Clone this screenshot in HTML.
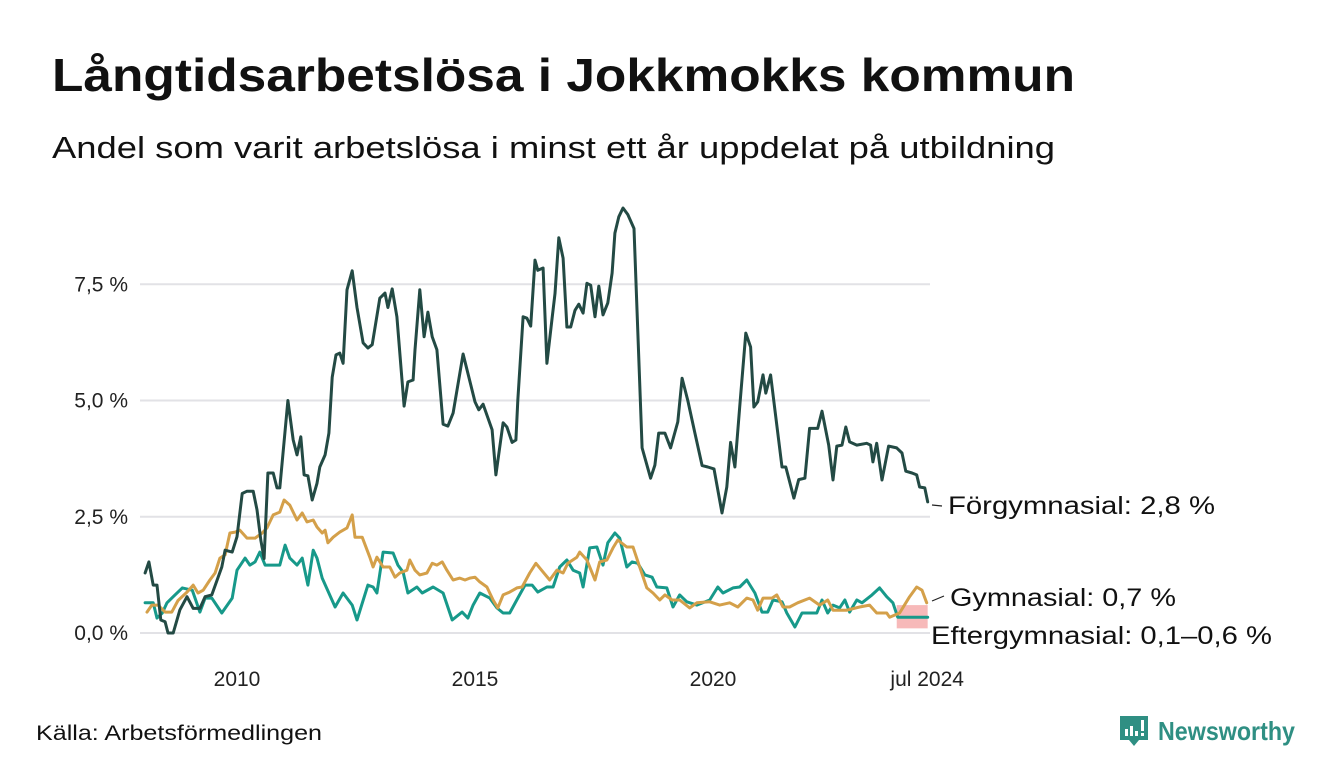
<!DOCTYPE html>
<html><head><meta charset="utf-8"><style>
html,body{margin:0;padding:0;background:#fff;}
svg{display:block;font-family:"Liberation Sans","DejaVu Sans",sans-serif;}
</style></head><body>
<svg id="chart" width="1340" height="780" viewBox="0 0 1340 780" xmlns="http://www.w3.org/2000/svg">
<rect width="1340" height="780" fill="#fff"/>
<text x="52" y="91" font-size="46" font-weight="bold" fill="#111" textLength="1023" lengthAdjust="spacingAndGlyphs">Långtidsarbetslösa i Jokkmokks kommun</text>
<text x="52" y="158" font-size="31" fill="#111" textLength="1003" lengthAdjust="spacingAndGlyphs">Andel som varit arbetslösa i minst ett år uppdelat på utbildning</text>
<g id="grid"></g>
<g id="yticks"></g>
<g id="xticks"></g>
<g id="series"></g>
<g>
<line x1="932" y1="505" x2="942" y2="506" stroke="#222" stroke-width="1.2"/>
<text x="948" y="514" font-size="25" fill="#111" textLength="267" lengthAdjust="spacingAndGlyphs">Förgymnasial: 2,8 %</text>
<line x1="932" y1="601" x2="944" y2="596" stroke="#222" stroke-width="1.2"/>
<text x="950" y="606" font-size="25" fill="#111" textLength="226" lengthAdjust="spacingAndGlyphs">Gymnasial: 0,7 %</text>
<text x="931" y="644" font-size="25" fill="#111" textLength="341" lengthAdjust="spacingAndGlyphs">Eftergymnasial: 0,1–0,6 %</text>
</g>
<text x="36" y="740" font-size="21" fill="#111" textLength="286" lengthAdjust="spacingAndGlyphs">Källa: Arbetsförmedlingen</text>
<g>
<path d="M1120 716 h28 v24 h-9 l-5 6 l-5 -6 h-9 z" fill="#2f8f83"/>
<rect x="1125" y="729" width="3" height="7" fill="#fff"/>
<rect x="1130" y="726" width="3" height="10" fill="#fff"/>
<rect x="1135" y="731" width="3" height="5" fill="#fff"/>
<rect x="1141" y="720" width="3" height="11" fill="#fff"/>
<rect x="1141" y="733" width="3" height="3" fill="#fff"/>
<text x="1158" y="740" font-size="26" font-weight="bold" fill="#2f8f83" textLength="137" lengthAdjust="spacingAndGlyphs">Newsworthy</text>
</g>
</svg>
<script>
const yTicks = [0, 2.5, 5.0, 7.5];
const yTickLabels = ["0,0 %", "2,5 %", "5,0 %", "7,5 %"];
const xTicks = [2010, 2015, 2020, 2024.5];
const xTickLabels = ["2010", "2015", "2020", "jul 2024"];

const forYears = [2008.07,2008.15,2008.24,2008.32,2008.40,2008.49,2008.55,2008.66,2008.80,2008.95,2009.08,2009.22,2009.33,2009.47,2009.68,2009.75,2009.90,2010.00,2010.11,2010.21,2010.34,2010.42,2010.50,2010.57,2010.65,2010.76,2010.84,2010.90,2011.07,2011.18,2011.26,2011.34,2011.41,2011.49,2011.58,2011.68,2011.74,2011.85,2011.93,2012.00,2012.08,2012.16,2012.23,2012.31,2012.42,2012.52,2012.65,2012.75,2012.84,2013.00,2013.11,2013.17,2013.26,2013.36,2013.51,2013.59,2013.70,2013.74,2013.84,2013.93,2014.01,2014.10,2014.20,2014.33,2014.43,2014.54,2014.75,2015.00,2015.08,2015.17,2015.36,2015.44,2015.59,2015.67,2015.78,2015.86,2015.90,2016.01,2016.09,2016.17,2016.26,2016.32,2016.43,2016.51,2016.62,2016.68,2016.76,2016.85,2016.93,2017.01,2017.10,2017.18,2017.27,2017.35,2017.43,2017.52,2017.60,2017.69,2017.79,2017.88,2017.94,2018.02,2018.11,2018.21,2018.34,2018.51,2018.69,2018.78,2018.86,2018.99,2019.11,2019.26,2019.35,2019.47,2019.62,2019.77,2019.89,2020.02,2020.19,2020.29,2020.37,2020.46,2020.56,2020.69,2020.79,2020.86,2020.94,2021.05,2021.11,2021.21,2021.30,2021.45,2021.53,2021.70,2021.80,2021.93,2022.03,2022.20,2022.29,2022.43,2022.52,2022.60,2022.71,2022.79,2022.87,2023.02,2023.23,2023.31,2023.36,2023.44,2023.55,2023.69,2023.86,2023.97,2024.05,2024.18,2024.28,2024.34,2024.45,2024.51];
const forValues = [1.29,1.53,1.03,1.03,0.28,0.24,0,0,0.5,0.78,0.53,0.53,0.78,0.82,1.42,1.78,1.74,2.07,3.0,3.05,3.05,2.65,2.0,1.6,3.44,3.44,3.12,3.12,5.0,4.15,3.83,4.22,3.4,3.38,2.86,3.22,3.57,3.83,4.3,5.5,5.98,6.02,5.8,7.38,7.79,7.0,6.24,6.13,6.2,7.2,7.31,7.0,7.4,6.8,4.88,5.4,5.44,6.09,7.38,6.37,6.9,6.37,6.09,4.49,4.45,4.73,6.0,4.97,4.8,4.92,4.37,3.4,4.52,4.43,4.1,4.15,5.0,6.8,6.77,6.6,8.02,7.8,7.85,5.8,6.77,7.3,8.5,8.06,6.58,6.58,6.94,7.07,6.88,7.52,7.48,6.8,7.46,6.84,7.1,7.74,8.6,8.95,9.14,9.0,8.7,3.98,3.33,3.61,4.3,4.3,3.98,4.54,5.48,5.0,4.3,3.6,3.57,3.53,2.58,3.14,4.1,3.57,4.86,6.45,6.15,4.86,4.97,5.55,5.16,5.55,4.8,3.57,3.57,2.9,3.3,3.33,4.4,4.4,4.77,4.04,3.29,4.02,4.04,4.43,4.11,4.04,4.08,4.04,3.68,4.08,3.29,4.02,3.98,3.87,3.48,3.44,3.4,3.14,3.12,2.82];

const gymYears = [2008.11,2008.21,2008.34,2008.49,2008.63,2008.76,2008.95,2009.08,2009.18,2009.29,2009.43,2009.54,2009.64,2009.75,2009.85,2009.96,2010.06,2010.21,2010.38,2010.53,2010.63,2010.76,2010.90,2010.99,2011.11,2011.26,2011.37,2011.47,2011.60,2011.68,2011.79,2011.85,2011.91,2012.02,2012.16,2012.31,2012.42,2012.48,2012.63,2012.79,2012.86,2012.94,2013.07,2013.21,2013.32,2013.42,2013.57,2013.63,2013.74,2013.84,2013.99,2014.10,2014.20,2014.31,2014.41,2014.54,2014.68,2014.79,2014.89,2015.00,2015.10,2015.25,2015.38,2015.48,2015.59,2015.73,2015.88,2015.99,2016.15,2016.28,2016.43,2016.57,2016.72,2016.85,2016.95,2017.14,2017.20,2017.35,2017.52,2017.62,2017.77,2017.90,2018.00,2018.19,2018.32,2018.46,2018.61,2018.74,2018.88,2018.99,2019.14,2019.30,2019.51,2019.66,2019.93,2020.14,2020.35,2020.52,2020.71,2020.84,2020.94,2021.05,2021.24,2021.34,2021.47,2021.61,2021.78,2022.03,2022.24,2022.41,2022.52,2022.81,2023.08,2023.29,2023.44,2023.65,2023.71,2023.92,2024.13,2024.28,2024.39,2024.49];
const gymValues = [0.45,0.6,0.6,0.45,0.45,0.7,0.88,1.03,0.86,0.92,1.14,1.29,1.61,1.68,2.15,2.17,2.21,2.04,2.04,2.15,2.26,2.54,2.6,2.86,2.75,2.43,2.58,2.39,2.43,2.28,2.15,2.21,1.94,2.06,2.17,2.26,2.54,2.06,2.06,1.63,1.42,1.63,1.42,1.42,1.2,1.29,1.35,1.57,1.35,1.25,1.29,1.5,1.46,1.53,1.35,1.14,1.18,1.14,1.18,1.2,1.1,0.99,0.71,0.54,0.82,0.88,0.97,0.99,1.29,1.5,1.31,1.14,1.35,1.29,1.5,1.63,1.74,1.57,1.14,1.53,1.57,1.83,2.0,1.85,1.85,1.42,0.97,0.86,0.71,0.82,0.71,0.71,0.54,0.65,0.67,0.6,0.65,0.56,0.75,0.71,0.49,0.75,0.75,0.82,0.56,0.56,0.65,0.75,0.6,0.71,0.49,0.49,0.56,0.6,0.43,0.43,0.34,0.43,0.78,0.99,0.92,0.65];

const eftYears = [2008.07,2008.24,2008.32,2008.43,2008.53,2008.66,2008.85,2009.06,2009.22,2009.33,2009.47,2009.68,2009.90,2010.00,2010.17,2010.27,2010.38,2010.48,2010.59,2010.90,2011.01,2011.11,2011.26,2011.37,2011.49,2011.60,2011.68,2011.79,2012.06,2012.23,2012.42,2012.52,2012.75,2012.86,2012.94,2013.07,2013.28,2013.38,2013.49,2013.59,2013.78,2013.89,2014.12,2014.33,2014.52,2014.73,2014.85,2014.96,2015.10,2015.31,2015.46,2015.59,2015.73,2015.90,2016.05,2016.20,2016.32,2016.51,2016.64,2016.78,2016.93,2017.06,2017.20,2017.27,2017.41,2017.56,2017.69,2017.79,2017.94,2018.04,2018.19,2018.30,2018.42,2018.57,2018.72,2018.82,2019.03,2019.16,2019.30,2019.45,2019.66,2019.93,2020.10,2020.21,2020.42,2020.56,2020.71,2020.88,2021.03,2021.15,2021.26,2021.45,2021.55,2021.72,2021.87,2022.18,2022.29,2022.41,2022.52,2022.66,2022.77,2022.87,2023.02,2023.13,2023.34,2023.50,2023.65,2023.78,2023.88,2024.51];
const eftValues = [0.65,0.65,0.32,0.43,0.65,0.78,0.97,0.92,0.45,0.75,0.75,0.43,0.75,1.35,1.61,1.46,1.53,1.74,1.46,1.46,1.89,1.61,1.46,1.61,1.03,1.78,1.61,1.18,0.56,0.86,0.6,0.28,1.03,0.99,0.86,1.74,1.72,1.46,1.31,0.86,0.99,0.86,0.99,0.86,0.28,0.45,0.32,0.6,0.86,0.75,0.54,0.43,0.43,0.75,1.03,1.03,0.88,0.99,0.99,1.42,1.57,1.35,1.29,0.99,1.83,1.85,1.46,1.94,2.15,2.04,1.42,1.53,1.5,1.25,1.2,0.99,0.97,0.56,0.82,0.67,0.6,0.71,0.99,0.86,0.97,0.99,1.14,0.86,0.45,0.45,0.71,0.67,0.43,0.13,0.43,0.43,0.71,0.43,0.6,0.54,0.71,0.45,0.71,0.65,0.82,0.97,0.78,0.65,0.34,0.34];

const eftRangeYears = [2023.86, 2024.51];
const eftRange = [0.1, 0.6];

const NS = "http://www.w3.org/2000/svg";
function xs(yr){ return 237 + (yr - 2010) * 47.6; }
function ys(v){ return 633 - v * 46.5; }
function mk(tag, attrs, parent){
  const el = document.createElementNS(NS, tag);
  for (const k in attrs) el.setAttribute(k, attrs[k]);
  parent.appendChild(el);
  return el;
}
const grid = document.getElementById('grid');
const yt = document.getElementById('yticks');
const xt = document.getElementById('xticks');
const ser = document.getElementById('series');

yTicks.forEach((v, i) => {
  const l = mk('line', {x1: 140, x2: 930, y1: ys(v), y2: ys(v), stroke: '#e2e2e6', 'stroke-width': 2}, grid);
  
  
  const t = mk('text', {x: 128, y: ys(v) + 7, 'text-anchor': 'end', 'font-size': 21, fill: '#222'}, yt);
  t.textContent = yTickLabels[i];
  
  
});
xTicks.forEach((v, i) => {
  const t = mk('text', {x: xs(v), y: 686, 'text-anchor': 'middle', 'font-size': 21, fill: '#222'}, xt);
  t.textContent = xTickLabels[i];
  
  
});

const band = mk('rect', {x: xs(eftRangeYears[0]), y: ys(eftRange[1]), width: xs(eftRangeYears[1]) - xs(eftRangeYears[0]), height: ys(eftRange[0]) - ys(eftRange[1]), fill: '#f7b9b9'}, ser);



function line(years, vals, color, name){
  const d = years.map((y, i) => (i ? 'L' : 'M') + xs(y).toFixed(1) + ' ' + ys(vals[i]).toFixed(1)).join(' ');
  const p = mk('path', {d: d, fill: 'none', stroke: color, 'stroke-width': 3, 'stroke-linejoin': 'round', 'stroke-linecap': 'round'}, ser);
  
  
}
line(eftYears, eftValues, '#17998a', 'line-eftergymnasial');
line(gymYears, gymValues, '#d4a04a', 'line-gymnasial');
line(forYears, forValues, '#234a44', 'line-forgymnasial');
</script>
</body></html>
